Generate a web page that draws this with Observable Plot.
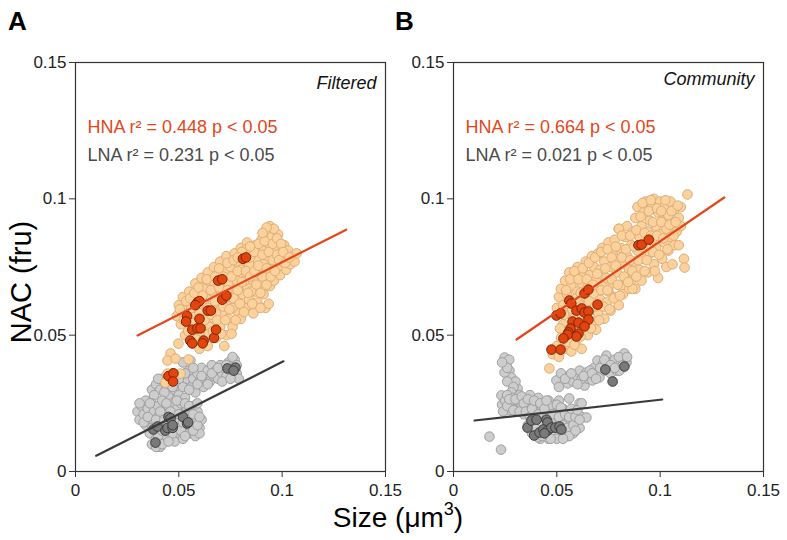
<!DOCTYPE html>
<html><head><meta charset="utf-8">
<script src="https://cdn.jsdelivr.net/npm/d3@7"></script>
<script src="https://cdn.jsdelivr.net/npm/@observablehq/plot@0.6"></script>
<style>
body{margin:0;background:#fff;font-family:"Liberation Sans",Arial,Helvetica,sans-serif;}
#wrap{position:relative;width:787px;height:540px;overflow:hidden;background:#fff}
.pl{position:absolute;top:0}
.lab{position:absolute;color:#000;white-space:nowrap;line-height:1}
</style></head><body>
<div id="wrap">
  <div id="pA" class="pl" style="left:0px"></div>
  <div id="pB" class="pl" style="left:378px"></div>
  <div class="lab" style="left:8px;top:8px;font-weight:bold;font-size:26px">A</div>
  <div class="lab" style="left:395px;top:8px;font-weight:bold;font-size:26px">B</div>
  <div class="lab" style="left:21px;top:282px;font-size:29px;transform:translate(-50%,-50%) rotate(-90deg);transform-origin:50% 50%;">NAC (fru)</div>
  <div class="lab" style="left:398px;top:504px;font-size:28px;transform:translateX(-50%)">Size (μm<sup style="font-size:18px;vertical-align:top;position:relative;top:-4px">3</sup>)</div>
</div>
<script>
// ---- axis ticks ----
const xTicks = [0, 0.05, 0.1, 0.15];
const yTicks = [0, 0.05, 0.1, 0.15];

// ---- Panel A (Filtered) ----
const hnaA = [
[0.049,0.057],[0.050,0.061],[0.051,0.054],[0.052,0.058],[0.052,0.064],[0.053,0.050],[0.054,0.061],[0.055,0.066],[0.055,0.053],[0.056,0.057],[0.057,0.047],[0.057,0.063],[0.058,0.069],[0.058,0.051],[0.059,0.060],[0.060,0.045],[0.060,0.066],[0.061,0.055],[0.061,0.071],
[0.062,0.049],[0.062,0.062],[0.063,0.058],[0.063,0.068],[0.064,0.046],[0.064,0.073],[0.065,0.053],[0.065,0.064],[0.066,0.060],[0.066,0.070],[0.067,0.056],[0.067,0.075],[0.068,0.049],[0.068,0.066],[0.069,0.062],[0.069,0.072],[0.070,0.053],[0.070,0.077],[0.071,0.058],[0.071,0.068],[0.072,0.046],[0.072,0.064],[0.072,0.074],
[0.073,0.050],[0.073,0.079],[0.074,0.056],[0.074,0.069],[0.075,0.061],[0.075,0.075],[0.076,0.066],[0.076,0.053],[0.077,0.072],[0.077,0.080],[0.078,0.059],[0.078,0.063],[0.079,0.068],[0.079,0.076],[0.080,0.056],[0.080,0.082],[0.081,0.071],[0.081,0.065],[0.082,0.078],[0.082,0.060],[0.083,0.074],[0.083,0.084],[0.083,0.068],
[0.084,0.063],[0.085,0.080],[0.085,0.071],[0.086,0.058],[0.086,0.076],[0.087,0.066],[0.087,0.083],[0.088,0.073],[0.088,0.062],[0.089,0.079],[0.089,0.069],[0.090,0.075],[0.090,0.085],[0.091,0.065],[0.091,0.081],[0.092,0.071],[0.092,0.060],[0.093,0.077],[0.093,0.088],[0.094,0.083],[0.094,0.068],[0.095,0.074],[0.095,0.086],
[0.096,0.079],[0.096,0.070],[0.097,0.082],[0.098,0.075],[0.098,0.087],[0.099,0.072],[0.099,0.080],[0.100,0.077],[0.101,0.083],[0.102,0.074],[0.102,0.079],[0.103,0.081],[0.104,0.076],[0.105,0.079],[0.106,0.077],[0.107,0.080],[0.094,0.090],[0.096,0.089],
[0.060,0.058],[0.064,0.060],[0.068,0.058],[0.070,0.064],[0.074,0.064],[0.076,0.060],[0.078,0.070],[0.080,0.074],[0.082,0.070],[0.084,0.076],[0.086,0.070],[0.088,0.078],[0.066,0.066],[0.062,0.067],[0.056,0.060],[0.085,0.066],[0.091,0.076],[0.097,0.077],[0.0895,0.060],[0.0935,0.0615],
[0.0498,0.0469],[0.046,0.0433],[0.0445,0.0407],[0.0484,0.0414],[0.0547,0.0411],[0.0445,0.0359],[0.046,0.0334],[0.0435,0.0326],[0.0508,0.0359],
[0.0505,0.0595],[0.0525,0.0555],[0.0535,0.0625],[0.0545,0.0515],[0.0555,0.0635],[0.0575,0.0545],[0.0575,0.0655],[0.0585,0.0485],[0.0595,0.0675],[0.0605,0.0515],[0.0615,0.0645],[0.0625,0.0555],[0.0635,0.0705],[0.0645,0.0505],[0.0655,0.0575],[0.0655,0.0665],[0.0665,0.0515],[0.0675,0.0625],[0.0675,0.0715],[0.0685,0.0555],[0.0695,0.0675],[0.0695,0.0745],[0.0705,0.0505],[0.0715,0.0605],[0.0715,0.0715],[0.0725,0.0555],[0.0735,0.0665],[0.0735,0.0765],[0.0745,0.0595],[0.0755,0.0715],[0.0755,0.0505],[0.0765,0.0635],[0.0765,0.0775],[0.0775,0.0555],[0.0785,0.0665],[0.0785,0.0735],[0.0795,0.0615],[0.0805,0.0695],[0.0805,0.0785],[0.0815,0.0585],[0.0825,0.0735],[0.0825,0.0815],[0.0835,0.0655],[0.0845,0.0715],[0.0845,0.0785],[0.0855,0.0615],[0.0865,0.0735],[0.0865,0.0805],[0.0875,0.0685],[0.0885,0.0755],[0.0885,0.0835],[0.0895,0.0655],[0.0905,0.0715],[0.0905,0.0795],[0.0915,0.0845],[0.0925,0.0685],[0.0925,0.0745],[0.0935,0.0805],[0.0945,0.0715],[0.0955,0.0775],[0.0955,0.0835],[0.0965,0.0735],[0.0975,0.0795],[0.0975,0.0855],[0.0985,0.0775],[0.0995,0.0835],[0.1005,0.0805],[0.1015,0.0765],[0.1035,0.0785],[0.0925,0.0895],[0.0905,0.0875],[0.0845,0.0825],[0.0805,0.0805],[0.0785,0.0785]
];
const hnaDarkA = [
[0.081,0.078],[0.0825,0.0785],[0.069,0.070],[0.071,0.0705],[0.059,0.062],[0.060,0.0625],[0.058,0.061],[0.054,0.057],[0.0535,0.055],[0.064,0.059],[0.0655,0.059],[0.071,0.063],[0.073,0.0645],[0.060,0.056],[0.0565,0.052],[0.059,0.0525],[0.0605,0.0525],[0.0555,0.048],[0.0565,0.047],[0.062,0.048],[0.0615,0.047],[0.067,0.049],[0.068,0.052],[0.045,0.035],[0.0474,0.036],[0.0472,0.033]
];
const lnaA = [
[0.037,0.030],[0.039,0.032],[0.041,0.030],[0.042,0.034],[0.044,0.031],[0.045,0.028],[0.046,0.033],[0.047,0.036],[0.048,0.030],[0.049,0.033],[0.050,0.028],[0.051,0.035],[0.052,0.031],[0.052,0.040],[0.053,0.027],[0.054,0.034],[0.055,0.037],[0.056,0.031],[0.057,0.034],[0.058,0.029],[0.059,0.036],[0.060,0.033],[0.061,0.038],[0.062,0.031],[0.063,0.035],[0.064,0.037],[0.065,0.033],[0.066,0.039],[0.067,0.035],[0.068,0.037],[0.069,0.034],[0.070,0.039],[0.071,0.036],[0.072,0.038],[0.073,0.035],[0.074,0.040],[0.075,0.037],[0.076,0.039],[0.077,0.041],[0.078,0.036],[0.079,0.034],[0.0556,0.0407],
[0.038,0.028],[0.040,0.034],[0.043,0.029],[0.045,0.035],[0.047,0.031],[0.050,0.034],[0.053,0.036],[0.055,0.030],[0.057,0.038],[0.059,0.032],[0.061,0.035],[0.064,0.032],[0.066,0.036],[0.069,0.038],[0.071,0.033],[0.073,0.039],[0.075,0.034],[0.076,0.042],[0.078,0.039],
[0.030,0.022],[0.031,0.019],[0.032,0.024],[0.033,0.021],[0.034,0.026],[0.034,0.017],[0.035,0.023],[0.036,0.020],[0.036,0.014],[0.037,0.025],[0.038,0.018],[0.038,0.022],[0.039,0.012],[0.039,0.016],[0.040,0.024],[0.040,0.020],[0.041,0.009],[0.041,0.014],[0.042,0.018],[0.042,0.026],[0.043,0.022],[0.043,0.011],[0.044,0.016],[0.045,0.020],[0.045,0.024],[0.046,0.013],[0.046,0.018],[0.047,0.022],[0.047,0.025],[0.048,0.016],[0.048,0.011],[0.049,0.020],[0.049,0.023],[0.050,0.014],[0.050,0.018],[0.051,0.025],[0.052,0.021],[0.052,0.012],[0.053,0.016],[0.054,0.023],[0.054,0.019],[0.055,0.014],[0.056,0.021],[0.056,0.017],[0.057,0.024],[0.058,0.013],[0.058,0.019],[0.059,0.022],[0.060,0.016],[0.060,0.014],[0.061,0.019],[0.044,0.013],[0.037,0.010],
[0.031,0.025],[0.033,0.018],[0.035,0.020],[0.036,0.025],[0.037,0.016],[0.039,0.019],[0.040,0.013],[0.041,0.022],[0.042,0.015],[0.043,0.019],[0.044,0.025],[0.045,0.017],[0.046,0.022],[0.047,0.014],[0.048,0.019],[0.049,0.026],[0.050,0.021],[0.051,0.015],[0.052,0.018],[0.053,0.025],[0.053,0.013],[0.055,0.017],[0.055,0.024],[0.057,0.015],[0.057,0.021],[0.059,0.017],[0.059,0.025],[0.060,0.020],[0.039,0.009],[0.042,0.010],[0.045,0.011]
];
const lnaDarkA = [
[0.0735,0.0378],[0.0774,0.0381],[0.0765,0.037],[0.045,0.020],[0.046,0.0195],[0.052,0.020],[0.054,0.0176],[0.0545,0.018],[0.0377,0.0154],[0.0397,0.0165],[0.0435,0.015],[0.0445,0.016],[0.047,0.016],[0.047,0.017],[0.0387,0.0106]
];
const hnaFitA = [[0.03,0.0499],[0.131,0.0887]];
const lnaFitA = [[0.010,0.0058],[0.1006,0.0404]];

// ---- Panel B (Community) ----
const hnaB = [
[0.048,0.043],[0.050,0.046],[0.051,0.042],[0.052,0.049],[0.050,0.060],[0.051,0.064],[0.052,0.067],[0.053,0.054],[0.053,0.061],[0.054,0.045],[0.054,0.070],[0.055,0.058],[0.055,0.065],[0.056,0.050],[0.056,0.073],[0.057,0.068],[0.057,0.044],[0.058,0.056],[0.058,0.062],[0.059,0.071],[0.059,0.047],[0.060,0.066],[0.060,0.075],[0.061,0.053],[0.061,0.061],[0.062,0.069],[0.062,0.045],[0.063,0.057],[0.063,0.073],[0.064,0.064],[0.064,0.077],[0.065,0.050],[0.065,0.068],[0.066,0.060],[0.066,0.072],[0.067,0.055],[0.067,0.079],[0.068,0.065],[0.068,0.075],[0.069,0.052],[0.069,0.070],[0.070,0.058],[0.070,0.080],[0.071,0.063],[0.071,0.074],[0.072,0.068],[0.072,0.082],[0.073,0.056],[0.073,0.077],[0.074,0.062],[0.074,0.071],[0.075,0.084],[0.075,0.066],[0.076,0.075],[0.076,0.059],[0.077,0.080],[0.077,0.069],[0.078,0.064],[0.078,0.085],[0.079,0.073],[0.079,0.078],[0.080,0.061],[0.080,0.089],[0.081,0.068],[0.081,0.082],[0.082,0.076],[0.082,0.065],[0.083,0.086],[0.083,0.071],[0.084,0.079],[0.084,0.090],[0.085,0.067],[0.085,0.074],[0.086,0.083],[0.086,0.070],[0.087,0.088],[0.087,0.077],[0.088,0.093],[0.088,0.067],[0.089,0.081],[0.089,0.097],[0.090,0.074],[0.090,0.086],[0.091,0.090],[0.091,0.070],[0.092,0.078],[0.092,0.095],[0.093,0.083],[0.093,0.099],[0.094,0.088],[0.094,0.073],[0.095,0.092],[0.095,0.080],[0.096,0.097],[0.096,0.085],[0.097,0.076],[0.097,0.100],[0.098,0.090],[0.098,0.082],[0.099,0.095],[0.099,0.071],[0.100,0.087],[0.100,0.099],[0.101,0.078],[0.101,0.092],[0.102,0.084],[0.102,0.097],[0.103,0.089],[0.103,0.075],[0.104,0.094],[0.104,0.081],[0.105,0.099],[0.105,0.086],[0.106,0.091],[0.106,0.076],[0.107,0.096],[0.107,0.083],[0.108,0.088],[0.109,0.093],[0.109,0.083],[0.110,0.097],[0.110,0.090],[0.1115,0.078],[0.1118,0.0748],[0.1132,0.1016],[0.0464,0.0378],[0.0866,0.067],[0.080,0.089],
[0.0515,0.0525],[0.0525,0.0445],[0.0535,0.0575],[0.0545,0.0665],[0.0555,0.0475],[0.0565,0.0705],[0.0575,0.0595],[0.0585,0.0465],[0.0585,0.0735],[0.0595,0.0635],[0.0605,0.0705],[0.0615,0.0495],[0.0615,0.0655],[0.0625,0.0745],[0.0635,0.0545],[0.0645,0.0705],[0.0655,0.0625],[0.0655,0.0765],[0.0665,0.0525],[0.0675,0.0685],[0.0685,0.0605],[0.0685,0.0785],[0.0695,0.0725],[0.0705,0.0555],[0.0715,0.0665],[0.0715,0.0805],[0.0725,0.0605],[0.0735,0.0745],[0.0745,0.0665],[0.0745,0.0815],[0.0755,0.0595],[0.0765,0.0705],[0.0765,0.0785],[0.0775,0.0635],[0.0785,0.0755],[0.0785,0.0825],[0.0795,0.0685],[0.0805,0.0645],[0.0815,0.0785],[0.0815,0.0865],[0.0825,0.0715],[0.0835,0.0815],[0.0845,0.0695],[0.0855,0.0775],[0.0855,0.0865],[0.0865,0.0735],[0.0875,0.0825],[0.0885,0.0715],[0.0885,0.0885],[0.0895,0.0775],[0.0905,0.0935],[0.0915,0.0825],[0.0925,0.0735],[0.0925,0.0875],[0.0935,0.0775],[0.0945,0.0955],[0.0955,0.0865],[0.0965,0.0805],[0.0965,0.0915],[0.0975,0.0735],[0.0985,0.0865],[0.0985,0.0965],[0.0995,0.0795],[0.1005,0.0915],[0.1015,0.0855],[0.1025,0.0995],[0.1035,0.0815],[0.1045,0.0905],[0.1055,0.0955],[0.1065,0.0865],[0.1075,0.0915],[0.1085,0.0975],[0.0915,0.0985],[0.0955,0.0995],[0.1005,0.0955]
];
const hnaDarkB = [
[0.0895,0.083],[0.091,0.0832],[0.0945,0.085],[0.0634,0.0653],[0.0653,0.0667],[0.056,0.0627],[0.057,0.0616],[0.0697,0.0612],[0.0595,0.059],[0.062,0.0598],[0.0634,0.0583],[0.0653,0.0587],[0.0498,0.0572],[0.0518,0.058],[0.0576,0.055],[0.0605,0.0546],[0.0653,0.0557],[0.0566,0.0524],[0.0634,0.0532],[0.0556,0.051],[0.0605,0.0506],[0.0595,0.0495],[0.0552,0.0502],[0.0532,0.0488],[0.0474,0.0447],[0.0518,0.0447]
];
const lnaB = [
[0.0498,0.0334],[0.052,0.036],[0.0552,0.0323],[0.056,0.035],[0.058,0.033],[0.0595,0.0352],[0.061,0.037],[0.0634,0.0315],[0.0643,0.0363],[0.065,0.034],[0.0672,0.0334],[0.068,0.038],[0.0697,0.0407],[0.070,0.036],[0.0706,0.0345],[0.072,0.039],[0.073,0.037],[0.074,0.0425],[0.075,0.040],[0.076,0.036],[0.077,0.039],[0.078,0.041],[0.079,0.037],[0.0803,0.037],[0.081,0.040],[0.082,0.042],[0.0827,0.0433],[0.0837,0.040],[0.066,0.037],[0.062,0.034],
[0.051,0.031],[0.054,0.034],[0.057,0.036],[0.060,0.032],[0.063,0.035],[0.067,0.036],[0.069,0.034],[0.071,0.038],[0.073,0.041],[0.076,0.039],[0.078,0.038],[0.080,0.042],[0.082,0.039],[0.084,0.042],
[0.0247,0.0418],[0.0256,0.0396],[0.0271,0.037],[0.028,0.0345],[0.0285,0.0323],[0.031,0.0304],[0.0247,0.0363],[0.027,0.041],[0.030,0.033],[0.026,0.033],[0.029,0.031],[0.026,0.038],[0.0235,0.040],[0.028,0.029],
[0.0232,0.0279],[0.0235,0.0245],[0.025,0.026],[0.026,0.028],[0.027,0.0225],[0.028,0.025],[0.029,0.027],[0.030,0.023],[0.031,0.026],[0.032,0.028],[0.033,0.024],[0.034,0.021],[0.035,0.026],[0.036,0.023],[0.037,0.028],[0.038,0.025],[0.039,0.021],[0.040,0.024],[0.041,0.027],[0.042,0.022],[0.043,0.025],[0.044,0.020],[0.045,0.023],[0.046,0.026],[0.047,0.021],[0.048,0.024],[0.049,0.019],[0.050,0.022],[0.051,0.026],[0.052,0.020],[0.053,0.023],[0.054,0.018],[0.055,0.021],[0.056,0.0268],[0.057,0.016],[0.058,0.019],[0.059,0.022],[0.060,0.017],[0.061,0.025],[0.062,0.020],[0.0643,0.0198],[0.036,0.017],[0.038,0.014],[0.040,0.016],[0.042,0.012],[0.044,0.015],[0.046,0.012],[0.048,0.014],[0.050,0.012],[0.052,0.015],[0.055,0.013],[0.058,0.014],[0.061,0.016],[0.0174,0.0128],[0.023,0.008],[0.046,0.018],[0.050,0.017],[0.054,0.0155],
[0.024,0.022],[0.026,0.024],[0.027,0.0265],[0.029,0.0225],[0.030,0.0265],[0.032,0.022],[0.033,0.0275],[0.034,0.025],[0.035,0.022],[0.036,0.0265],[0.037,0.020],[0.038,0.023],[0.039,0.026],[0.041,0.021],[0.042,0.025],[0.043,0.018],[0.044,0.023],[0.045,0.026],[0.047,0.018],[0.048,0.021],[0.049,0.016],[0.050,0.0245],[0.051,0.020],[0.052,0.0235],[0.053,0.017],[0.054,0.021],[0.055,0.016],[0.056,0.020],[0.057,0.023],[0.058,0.017],[0.059,0.020],[0.060,0.0225],[0.061,0.019],[0.056,0.013],[0.059,0.015],[0.062,0.025],[0.041,0.0125],[0.043,0.013],[0.047,0.012],[0.053,0.012]
];
const lnaDarkB = [
[0.0735,0.0374],[0.0827,0.0385],[0.077,0.033],[0.0358,0.0161],[0.0377,0.0187],[0.0402,0.019],[0.045,0.019],[0.0455,0.018],[0.039,0.0132],[0.0416,0.0143],[0.0435,0.0154],[0.0455,0.015],[0.0474,0.0161],[0.0493,0.0161],[0.0513,0.0165],[0.0522,0.0154],[0.044,0.014]
];
const hnaFitB = [[0.0305,0.0484],[0.131,0.1005]];
const lnaFitB = [[0.0102,0.0187],[0.101,0.0264]];

// ---- texts ----
const notes = ["Filtered", "Community"];
const hnaStats = ["HNA r² = 0.448 p < 0.05", "HNA r² = 0.664 p < 0.05"];
const lnaStats = ["LNA r² = 0.231 p < 0.05", "LNA r² = 0.021 p < 0.05"];

const C = {
  hnaFill: "#fdd19c", hnaStroke: "#dcae78",
  hnaDarkFill: "#e2440d", hnaDarkStroke: "#7f2205",
  lnaFill: "#cdcdcd", lnaStroke: "#9e9e9e",
  lnaDarkFill: "#7a7a7a", lnaDarkStroke: "#3a3a3a",
  hnaLine: "#e4461a", lnaLine: "#3a3a3a",
  hnaText: "#e4461a", lnaText: "#4a4a4a"
};

function panel(hna, hnaDark, lna, lnaDark, hnaFit, lnaFit, note, hnaTxt, lnaTxt, noteDy) {
  const px = d => d[0], py = d => d[1];
  const R = 4.8;
  return Plot.plot({
    width: 393, height: 500,
    marginLeft: 75, marginRight: 8, marginTop: 62, marginBottom: 29,
    style: {fontFamily: "'Liberation Sans', Arial, Helvetica, sans-serif", fontSize: "17px", color: "#222", background: "transparent", overflow: "visible"},
    x: {domain: [0, 0.15]},
    y: {domain: [0, 0.15]},
    marks: [
      Plot.dot(lna, {x: px, y: py, r: R, fill: C.lnaFill, stroke: C.lnaStroke, strokeWidth: 1}),
      Plot.dot(hna, {x: px, y: py, r: R, fill: C.hnaFill, stroke: C.hnaStroke, strokeWidth: 1}),
      Plot.dot(lnaDark, {x: px, y: py, r: R, fill: C.lnaDarkFill, stroke: C.lnaDarkStroke, strokeWidth: 1}),
      Plot.dot(hnaDark, {x: px, y: py, r: R, fill: C.hnaDarkFill, stroke: C.hnaDarkStroke, strokeWidth: 1}),
      Plot.line(hnaFit, {x: px, y: py, stroke: C.hnaLine, strokeWidth: 2.2}),
      Plot.line(lnaFit, {x: px, y: py, stroke: C.lnaLine, strokeWidth: 2.2}),
      Plot.frame({stroke: "#333", strokeWidth: 1.2}),
      Plot.axisX({ticks: xTicks, tickFormat: d => String(d), tickSize: 6, tickPadding: 6, label: null, fontSize: 17, stroke: "#333"}),
      Plot.axisY({ticks: yTicks, tickFormat: d => String(d), tickSize: 6, tickPadding: 3, label: null, fontSize: 17, stroke: "#333"}),
      Plot.text([note], {frameAnchor: "top-right", dx: -9, dy: noteDy, lineAnchor: "top", fontStyle: "italic", fontSize: 18, fill: "#111"}),
      Plot.text([hnaTxt], {frameAnchor: "top-left", dx: 12, dy: 58, lineAnchor: "top", fontSize: 18, fill: C.hnaText}),
      Plot.text([lnaTxt], {frameAnchor: "top-left", dx: 12, dy: 86, lineAnchor: "top", fontSize: 18, fill: C.lnaText})
    ]
  });
}

document.getElementById("pA").append(panel(hnaA, hnaDarkA, lnaA, lnaDarkA, hnaFitA, lnaFitA, notes[0], hnaStats[0], lnaStats[0], 14));
document.getElementById("pB").append(panel(hnaB, hnaDarkB, lnaB, lnaDarkB, hnaFitB, lnaFitB, notes[1], hnaStats[1], lnaStats[1], 10));
</script>
</body></html>
